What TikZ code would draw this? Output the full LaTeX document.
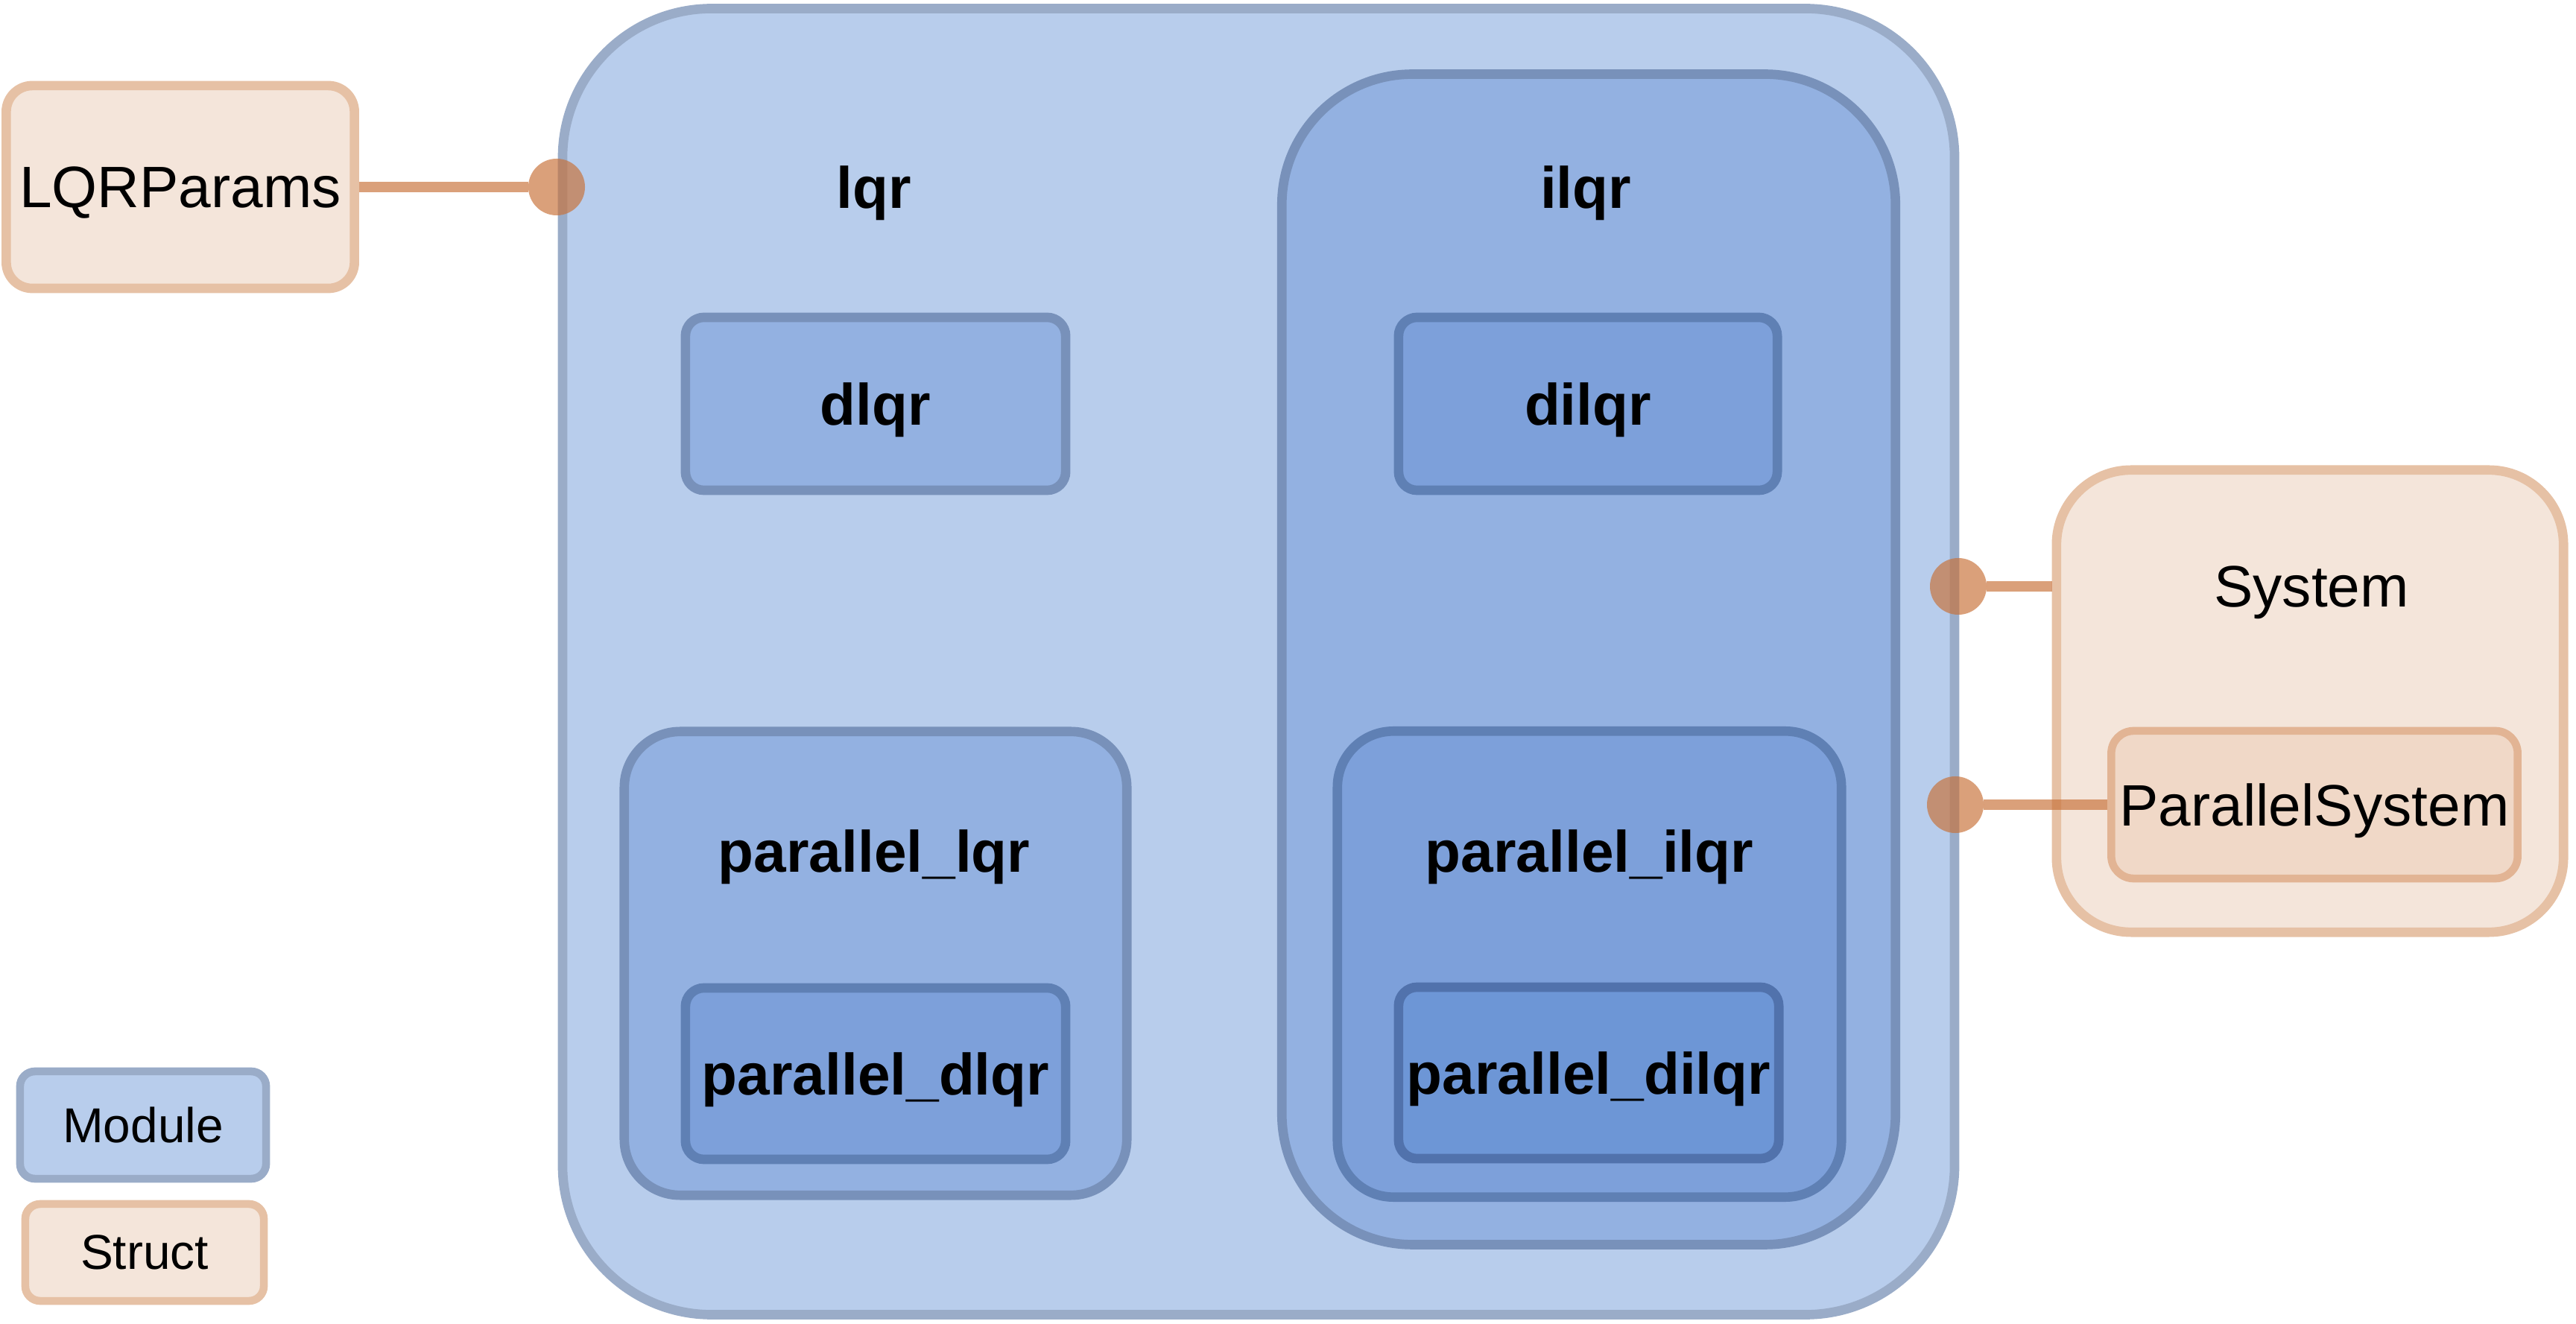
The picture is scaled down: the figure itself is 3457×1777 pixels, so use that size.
\documentclass[tikz,border=0pt]{standalone}
\usepackage{fontspec}
\setmainfont{Liberation Sans}
\definecolor{modfillA}{HTML}{B8CDEC}
\definecolor{moddrawA}{HTML}{9AACC8}
\definecolor{modfillB}{HTML}{93B1E1}
\definecolor{moddrawB}{HTML}{7891BA}
\definecolor{modfillC}{HTML}{7DA0DA}
\definecolor{moddrawC}{HTML}{5F80B4}
\definecolor{modfillD}{HTML}{6D96D6}
\definecolor{moddrawD}{HTML}{5172AC}
\definecolor{stfill}{HTML}{F4E5DA}
\definecolor{stdraw}{HTML}{E6C1A5}
\definecolor{stfillin}{HTML}{F0D8C7}
\definecolor{stdrawin}{HTML}{E2B494}
\definecolor{wire}{HTML}{C87139}
\tikzset{
  modA/.style={draw=moddrawA, fill=modfillA, line width=3.6pt, rectangle},
  modB/.style={draw=moddrawB, fill=modfillB, line width=3.6pt, rectangle},
  modC/.style={draw=moddrawC, fill=modfillC, line width=3.6pt, rectangle},
  modD/.style={draw=moddrawD, fill=modfillD, line width=3.6pt, rectangle},
  strct/.style={draw=stdraw, fill=stfill, line width=3.6pt, rectangle},
  strctin/.style={draw=stdrawin, fill=stfillin, line width=3pt, rectangle},
  btxt/.style={font=\fontsize{22.3}{26}\selectfont\bfseries, inner sep=0pt, text depth=0pt},
  ntxt/.style={font=\fontsize{22.3}{26}\selectfont, inner sep=0pt, text depth=0pt},
  conn/.style={draw=wire, draw opacity=0.67, line width=4pt},
  port/.style={circle, fill=wire, fill opacity=0.67, minimum size=0.76cm, inner sep=0pt, outer sep=0pt}
}
\begin{document}
\begin{tikzpicture}[x=0.01cm, y=-0.01cm]
\useasboundingbox (0,0) rectangle (3457,1777);
% modules
\node[modA, rounded corners=2cm, minimum width=18.67cm, minimum height=17.52cm] (lqr) at (1689,888) {};
\node[btxt] (lqr-t) at (1173,251) {lqr};
\node[modB, rounded corners=0.25cm, minimum width=5.1cm, minimum height=2.32cm, btxt] (dlqr) at (1175,542) {dlqr};
\node[modB, rounded corners=0.75cm, minimum width=6.74cm, minimum height=6.22cm] (plqr) at (1175,1293) {};
\node[btxt] (plqr-t) at (1173,1142) {parallel\_lqr};
\node[modC, rounded corners=0.25cm, minimum width=5.1cm, minimum height=2.3cm, btxt] (pdlqr) at (1175,1441) {parallel\_dlqr};
\node[modB, rounded corners=1.75cm, minimum width=8.23cm, minimum height=15.7cm] (ilqr) at (2132,885) {};
\node[btxt] (ilqr-t) at (2128,251) {ilqr};
\node[modC, rounded corners=0.25cm, minimum width=5.08cm, minimum height=2.32cm, btxt] (dilqr) at (2131,542) {dilqr};
\node[modC, rounded corners=0.75cm, minimum width=6.76cm, minimum height=6.25cm] (pilqr) at (2133,1294) {};
\node[btxt] (pilqr-t) at (2133,1142) {parallel\_ilqr};
\node[modD, rounded corners=0.25cm, minimum width=5.1cm, minimum height=2.3cm, btxt] (pdilqr) at (2132,1440) {parallel\_dilqr};
% structs
\node[strct, rounded corners=0.35cm, minimum width=4.67cm, minimum height=2.72cm, ntxt] (params) at (242,251) {LQRParams};
\node[strct, rounded corners=1cm, minimum width=6.8cm, minimum height=6.2cm] (sys) at (3100,941) {};
\node[ntxt] (sys-t) at (3102,787) {System};
\node[strctin, rounded corners=0.3cm, minimum width=5.45cm, minimum height=1.98cm, ntxt] (psys) at (3106,1080) {ParallelSystem};
% legend
\node[modA, line width=3pt, rounded corners=0.2cm, minimum width=3.3cm, minimum height=1.44cm, font=\fontsize{18.7}{22}\selectfont] (leg-mod) at (192,1510) {Module};
\node[strct, line width=3pt, rounded corners=0.2cm, minimum width=3.2cm, minimum height=1.3cm, font=\fontsize{18.7}{22}\selectfont] (leg-st) at (194,1681) {Struct};
% ports and wires
\node[port] (p1) at (747,251) {};
\node[port] (p2) at (2628,787) {};
\node[port] (p3) at (2624,1080) {};
\draw[conn] (params.east) -- (p1);
\draw[conn] (p2) -- (p2 -| sys.west);
\draw[conn] (p3) -- (p3 -| psys.west);
\end{tikzpicture}
\end{document}
